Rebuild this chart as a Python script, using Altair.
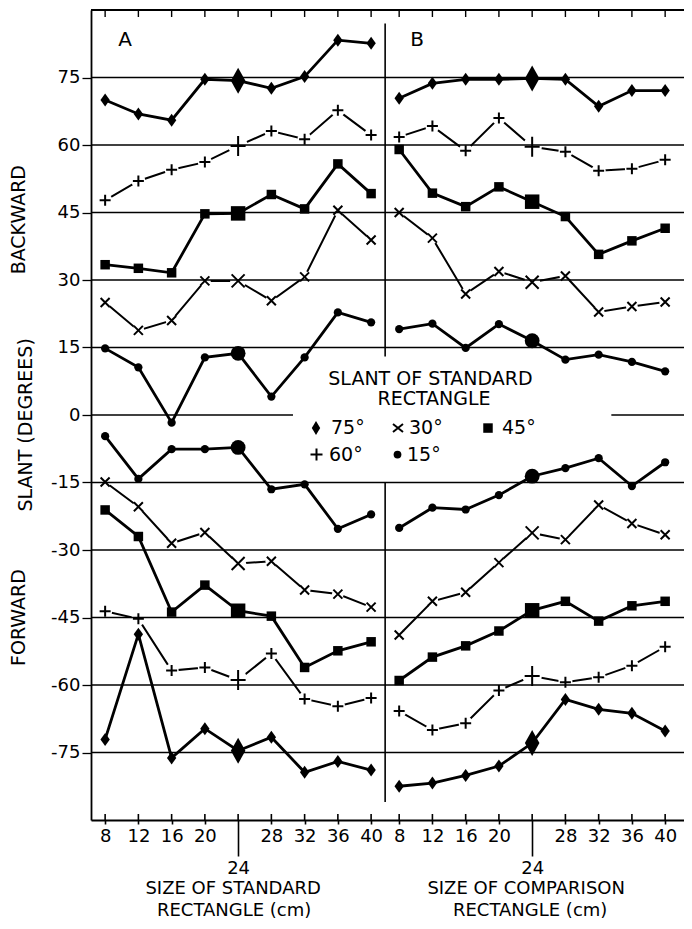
import altair as alt
import pandas as pd

# ---------------- data ----------------
sizes = [8, 12, 16, 20, 24, 28, 32, 36, 40]

# Panel A: size of standard rectangle varied
a_back_75 = [70.0, 66.9, 65.5, 74.6, 74.3, 72.6, 75.2, 83.3, 82.6]
a_back_60 = [47.7, 52.0, 54.5, 56.2, 59.8, 63.1, 61.3, 67.7, 62.2]
a_back_45 = [33.4, 32.6, 31.6, 44.7, 44.8, 49.0, 45.8, 55.8, 49.2]
a_back_30 = [25.0, 18.8, 21.0, 29.8, 29.8, 25.4, 30.7, 45.5, 38.9]
a_back_15 = [14.8, 10.6, -1.7, 12.8, 13.7, 4.1, 12.8, 22.8, 20.6]
a_fwd_15 = [-4.7, -14.2, -7.6, -7.6, -7.2, -16.5, -15.4, -25.3, -22.1]
a_fwd_30 = [-14.9, -20.4, -28.5, -26.1, -33.0, -32.5, -38.9, -39.8, -42.7]
a_fwd_45 = [-21.1, -27.0, -43.8, -37.8, -43.5, -44.7, -56.1, -52.4, -50.4]
a_fwd_60 = [-43.6, -45.3, -56.8, -56.1, -58.9, -53.0, -63.1, -64.7, -62.9]
a_fwd_75 = [-72.1, -48.7, -76.2, -69.7, -74.6, -71.6, -79.4, -77.0, -78.9]

# Panel B: size of comparison rectangle varied
b_back_75 = [70.4, 73.7, 74.6, 74.6, 74.8, 74.6, 68.6, 72.1, 72.1]
b_back_60 = [61.8, 64.2, 58.7, 66.0, 59.6, 58.5, 54.3, 54.7, 56.7]
b_back_45 = [59.0, 49.3, 46.3, 50.7, 47.4, 44.1, 35.7, 38.7, 41.5]
b_back_30 = [45.0, 39.3, 26.9, 31.9, 29.5, 30.9, 22.9, 24.1, 25.1]
b_back_15 = [19.1, 20.3, 14.9, 20.2, 16.5, 12.3, 13.4, 11.8, 9.7]
b_fwd_15 = [-25.1, -20.6, -21.0, -17.8, -13.6, -11.8, -9.6, -15.8, -10.5]
b_fwd_30 = [-48.9, -41.4, -39.4, -32.8, -26.2, -27.7, -20.0, -24.1, -26.6]
b_fwd_45 = [-59.0, -53.8, -51.3, -48.0, -43.4, -41.4, -45.8, -42.4, -41.4]
b_fwd_60 = [-65.8, -70.0, -68.5, -61.2, -58.0, -59.4, -58.3, -55.7, -51.5]
b_fwd_75 = [-82.5, -81.8, -80.1, -78.0, -72.9, -63.2, -65.4, -66.3, -70.2]

y_ticks = [-75, -60, -45, -30, -15, 0, 15, 30, 45, 60, 75]
legend_labels = ["75°", "30°", "45°", "60°", "15°"]

# ---------------- layout ----------------
W, H = 593, 810
B_OFFSET = 35.375           # panel B is drawn to the right of panel A
X_DOM = [6.3, 6.3 + W / 8.312]
DIVIDER = 41.6875
xscale = alt.Scale(domain=X_DOM, nice=False, zero=False)
yscale = alt.Scale(domain=[-90, 90], nice=False, zero=False)
FONT = "DejaVu Sans"

panels = {
    "A": (0, {(75, "b"): a_back_75, (60, "b"): a_back_60, (45, "b"): a_back_45,
              (30, "b"): a_back_30, (15, "b"): a_back_15, (15, "f"): a_fwd_15,
              (30, "f"): a_fwd_30, (45, "f"): a_fwd_45, (60, "f"): a_fwd_60,
              (75, "f"): a_fwd_75}),
    "B": (B_OFFSET, {(75, "b"): b_back_75, (60, "b"): b_back_60, (45, "b"): b_back_45,
                     (30, "b"): b_back_30, (15, "b"): b_back_15, (15, "f"): b_fwd_15,
                     (30, "f"): b_fwd_30, (45, "f"): b_fwd_45, (60, "f"): b_fwd_60,
                     (75, "f"): b_fwd_75}),
}
rows = []
for p, (off, series) in panels.items():
    for (slant, d), vals in series.items():
        for cm, v in zip(sizes, vals):
            rows.append({"panel": p, "slant": slant, "dir": d, "cm": cm,
                         "xpos": cm + off, "value": v, "series": f"{p}{d}{slant}"})
df = pd.DataFrame(rows)

tick_vals = sizes + [c + B_OFFSET for c in sizes]
is24 = "abs(datum.value - 24) < 0.01 || abs(datum.value - 59.375) < 0.01"

x_axis = alt.Axis(
    values=tick_vals, title=None, grid=False,
    labelExpr="round(datum.value > 42 ? datum.value - 35.375 : datum.value)",
    tickSize={"condition": {"test": is24, "value": 36}, "value": 4},
    tickColor="black", tickWidth=1.6, domainColor="black", domainWidth=1.8,
    labelFontSize=18, labelColor="black", labelPadding=3,
    labelOverlap=False, labelFlush=False, labelFont=FONT,
)
y_axis = alt.Axis(
    values=y_ticks, title=None, grid=False, tickSize=9, tickColor="black",
    tickWidth=1.3, domainColor="black", domainWidth=1.8, labelFontSize=18,
    labelColor="black", labelPadding=2, labelFont=FONT, labelOverlap=False,
    labelExpr="datum.value < 0 ? '-' + abs(datum.value) : '' + datum.value",
)
X = alt.X("xpos:Q", scale=xscale, axis=x_axis)
Y = alt.Y("value:Q", scale=yscale, axis=y_axis)

def XD(v):
    return alt.X(datum=v, type="quantitative", scale=xscale, axis=x_axis)

def YD(v):
    return alt.Y(datum=v, type="quantitative", scale=yscale, axis=y_axis)

one = pd.DataFrame({"k": [0]})

thick = df[df.slant.isin([75, 45, 15])]
thin = df[df.slant.isin([60, 30])]

layers = []
layers.append(alt.Chart(thick).mark_line(color="black", strokeWidth=2.8)
              .encode(x=X, y=Y, detail="series:N"))
layers.append(alt.Chart(thin).mark_line(color="black", strokeWidth=2.0)
              .encode(x=X, y=Y, detail="series:N"))

# white halos break the thin lines around the + and x markers
def halo(data, size):
    return alt.Chart(data).mark_circle(color="white", opacity=1, size=size).encode(x=X, y=Y)

plus = df[df.slant == 60]
cross = df[df.slant == 30]
layers += [halo(plus[plus.cm != 24], 200), halo(plus[plus.cm == 24], 380),
           halo(cross[cross.cm != 24], 140), halo(cross[cross.cm == 24], 260)]

# gridlines (the 0 line is broken by the legend)
grid_rows = [{"g": v, "g1": X_DOM[0], "g2": X_DOM[1]} for v in y_ticks if v != 0]
grid_rows += [{"g": 0, "g1": X_DOM[0], "g2": 30.6}, {"g": 0, "g1": 68.9, "g2": X_DOM[1]}]
grid_df = pd.DataFrame(grid_rows)
layers.append(alt.Chart(grid_df).mark_rule(color="black", strokeWidth=1.3).encode(
    x=alt.X("g1:Q", scale=xscale, axis=x_axis), x2="g2:Q",
    y=alt.Y("g:Q", scale=yscale, axis=y_axis)))

DIAMOND_S = "M0,-1L0.72,0L0,1L-0.72,0Z"
DIAMOND_B = "M0,-1L0.56,0L0,1L-0.56,0Z"
DIAMOND_L = "M0,-1L0.6,0L0,1L-0.6,0Z"
PLUS_S = "M-1,0L1,0M0,-1L0,1"
PLUS_B = "M-0.75,0L0.75,0M0,-1L0,1"
CROSS = "M-1,-1L1,1M-1,1L1,-1"
CROSS_L = "M-1,-0.8L1,0.8M-1,0.8L1,-0.8"

def point_mark(data, shape, size, filled):
    if filled:
        return alt.Chart(data).mark_point(shape=shape, filled=True, color="black",
                                          opacity=1, size=size, strokeWidth=0)
    return alt.Chart(data).mark_point(shape=shape, filled=False, color="black",
                                      opacity=1, size=size, strokeWidth=2.0)

for slant, s_shape, s_size, b_shape, b_size, filled in [
    (75, DIAMOND_S, 169, DIAMOND_B, 676, True),
    (45, "square", 90, "square", 210, True),
    (15, "circle", 68, "circle", 220, True),
    (60, PLUS_S, 121, PLUS_B, 400, False),
    (30, CROSS, 81, CROSS, 169, False),
]:
    d = df[df.slant == slant]
    layers.append(point_mark(d[d.cm != 24], s_shape, s_size, filled).encode(x=X, y=Y))
    layers.append(point_mark(d[d.cm == 24], b_shape, b_size, filled).encode(x=X, y=Y))

# frame details: top line, inner ticks, panel divider
ticks_df = pd.DataFrame({"t": tick_vals})
layers.append(alt.Chart(one).mark_rule(color="black", strokeWidth=1.8).encode(
    x=alt.value(0), x2=alt.value(W), y=alt.value(0)))
layers.append(alt.Chart(ticks_df).mark_rule(color="black", strokeWidth=1.4).encode(
    x=alt.X("t:Q", scale=xscale, axis=x_axis), y=alt.value(0), y2=alt.value(7)))
layers.append(alt.Chart(ticks_df).mark_rule(color="black", strokeWidth=1.6).encode(
    x=alt.X("t:Q", scale=xscale, axis=x_axis), y=alt.value(H - 6), y2=alt.value(H)))
div_df = pd.DataFrame({"dx": [DIVIDER, DIVIDER], "y1": [87.0, -15.0], "y2": [13.0, -86.0]})
layers.append(alt.Chart(div_df).mark_rule(color="black", strokeWidth=1.6).encode(
    x=alt.X("dx:Q", scale=xscale, axis=x_axis),
    y=alt.Y("y1:Q", scale=yscale, axis=y_axis), y2="y2:Q"))

def txt(text, x, y, size, align="center", angle=0, dx=0):
    kw = dict(text=text, fontSize=size, font=FONT, color="black", align=align,
              baseline="middle", dx=dx)
    if angle:
        kw["angle"] = angle
    return alt.Chart(one).mark_text(**kw).encode(x=x, y=y)

layers += [
    txt("A", alt.value(34), alt.value(30), 20),
    txt("B", alt.value(326), alt.value(30), 20),
    txt("BACKWARD", alt.value(-72), YD(43.4), 19, angle=270),
    txt("SLANT (DEGREES)", alt.value(-65), YD(-2.2), 19, angle=270),
    txt("FORWARD", alt.value(-72), YD(-45.0), 19, angle=270),
    txt("SLANT OF STANDARD", alt.value(339.5), YD(8.0), 19),
    txt("RECTANGLE", alt.value(343), YD(3.6), 19),
    txt("SIZE OF STANDARD", XD(24), alt.value(H + 69), 18, dx=-5),
    txt("RECTANGLE (cm)", XD(24), alt.value(H + 91), 18, dx=-4),
    txt("SIZE OF COMPARISON", XD(24 + B_OFFSET), alt.value(H + 69), 18, dx=-6),
    txt("RECTANGLE (cm)", XD(24 + B_OFFSET), alt.value(H + 91), 18, dx=-2),
]

# legend (symbols + labels)
ROW1, ROW2 = -2.9, -8.8
legend_spec = [
    (DIAMOND_L, 196, True, 225, 240, ROW1),
    (CROSS_L, 100, False, 307, 318, ROW1),
    ("square", 90, True, 397, 411, ROW1),
    (PLUS_S, 144, False, 225.5, 238, ROW2),
    ("circle", 60, True, 306.5, 316, ROW2),
]
for lab, (shape, size, filled, sx, tx, ry) in zip(legend_labels, legend_spec):
    layers.append(point_mark(one, shape, size, filled).encode(x=alt.value(sx), y=YD(ry)))
    layers.append(txt(lab, alt.value(tx), YD(ry), 19, align="left"))

chart = (
    alt.layer(*layers)
    .properties(width=W, height=H,
                padding={"left": 83, "top": 2, "right": 0, "bottom": 100},
                autosize=alt.AutoSizeParams(type="none"))
    .configure_view(stroke=None)
    .configure_axis(labelOverlap=False)
    .configure(font=FONT, background="white")
)
chart.save("out.html", embed_options={"renderer": "svg", "actions": False})
